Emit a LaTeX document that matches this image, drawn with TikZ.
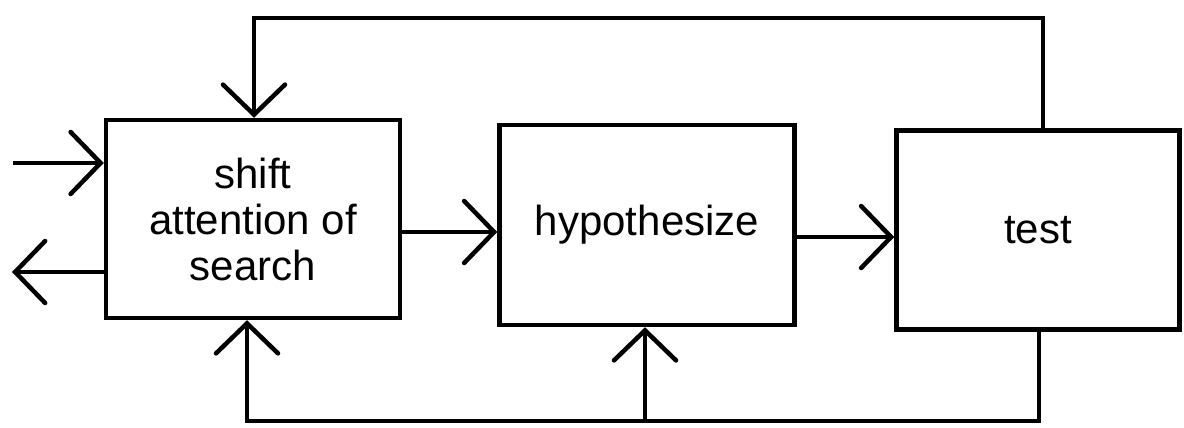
\documentclass[tikz,border=0pt]{standalone}
\usepackage{fontspec}
\setmainfont{Liberation Sans}
\usetikzlibrary{arrows.meta}
\begin{document}
\begin{tikzpicture}[x=1pt,y=-1pt,
  blk/.style={draw,line width=4.5pt,rectangle,inner sep=0pt,align=center,
    font=\fontsize{42pt}{46pt}\selectfont},
  conn/.style={line width=4.5pt,line join=miter},
  arr/.style={conn,-{Straight Barb[length=30pt,width=62pt,line cap=round]}}]
\useasboundingbox (0,0) rectangle (1184,428);
\node[blk,minimum width=294pt,minimum height=198pt] (b1) at (253,219) {shift\\attention of\\search};
\node[blk,minimum width=295pt,minimum height=200pt] (b2) at (647,225) {hypothesize};
\node[blk,minimum width=283pt,minimum height=199pt] (b3) at (1038,230) {test};
% top feedback loop
\coordinate (t1) at (1043,18);
\coordinate (t2) at (254,18);
\draw[arr] (b3.north -| t1) -- (t1) -- (t2) -- (b1.north -| t2);
% bottom feedback loop
\coordinate (u1) at (1039,421);
\coordinate (u2) at (247,421);
\coordinate (u3) at (645,421);
\draw[arr] (b3.south -| u1) -- (u1) -- (u2) -- (b1.south -| u2);
\draw[arr] (u3) -- (b2.south -| u3);
% left in/out
\coordinate (in1) at (13,163);
\coordinate (out1) at (12,272);
\draw[arr] (in1) -- (in1 -| b1.west);
\draw[arr] (out1 -| b1.west) -- (out1);
% forward arrows
\coordinate (f1) at (0,232);
\coordinate (f2) at (0,237);
\draw[arr] (f1 -| b1.east) -- (f1 -| b2.west);
\draw[arr] (f2 -| b2.east) -- (f2 -| b3.west);
\end{tikzpicture}
\end{document}
